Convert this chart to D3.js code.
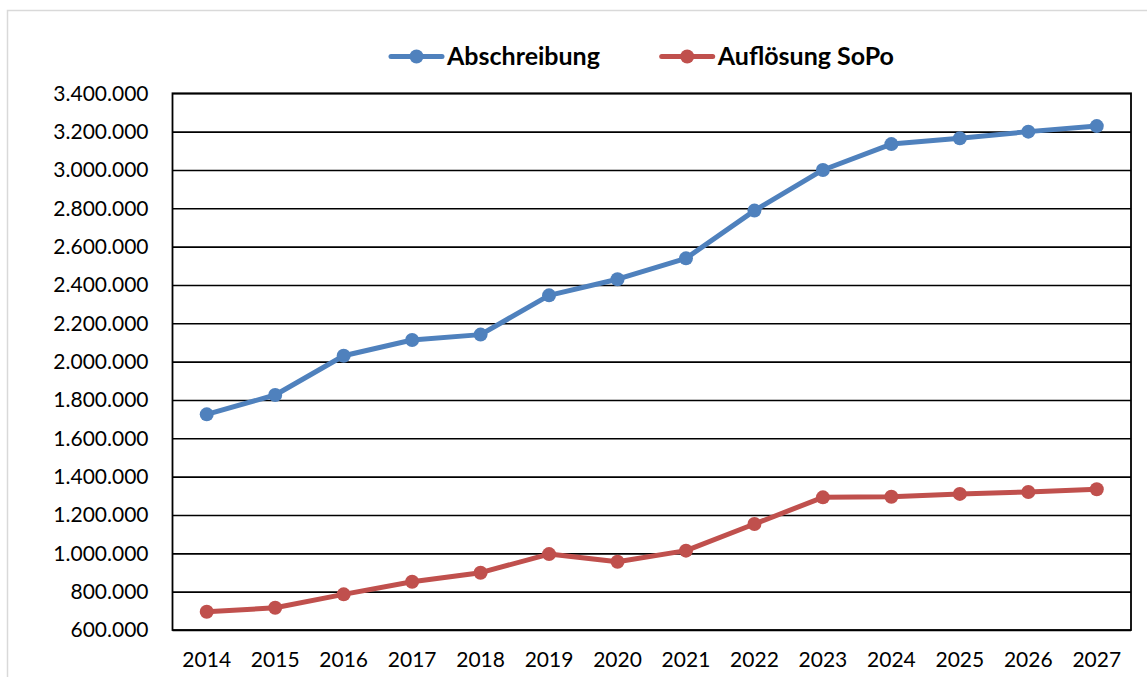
<!DOCTYPE html>
<html lang="de">
<head>
<meta charset="UTF-8">
<title>Abschreibung / Auflösung SoPo</title>
<script src="https://d3js.org/d3.v7.min.js"></script>
<style>
    body { margin: 0; background: #fff; }
    svg { display: block; font-family: Lato, "Open Sans", sans-serif; }
</style>
</head>
<body>
<div id="chart"></div>
<script>
    // data
    const years = ["2014", "2015", "2016", "2017", "2018", "2019", "2020",
                   "2021", "2022", "2023", "2024", "2025", "2026", "2027"];
    const abschreibung = [1725000, 1826000, 2031000, 2113000, 2141000, 2346000, 2430000,
                          2539000, 2788000, 3000000, 3135000, 3165000, 3200000, 3229000];
    const aufloesung = [695000, 716000, 786000, 852000, 899000, 996000, 956000,
                        1014000, 1153000, 1292000, 1295000, 1310000, 1320000, 1334000];
    const yTicks = [600000, 800000, 1000000, 1200000, 1400000, 1600000, 1800000, 2000000,
                    2200000, 2400000, 2600000, 2800000, 3000000, 3200000, 3400000];
    const seriesNames = ["Abschreibung", "Auflösung SoPo"];
    const colors = ["#4f81bd", "#c0504d"];

    const W = 1147, H = 677;
    const plot = { left: 172.5, right: 1131, top: 93.3, bottom: 630 };

    const svg = d3.select("#chart").append("svg")
        .attr("width", W)
        .attr("height", H);

    // outer chart frame
    svg.append("rect")
        .attr("x", 7.5).attr("y", 10.5)
        .attr("width", W + 10).attr("height", H + 10)
        .attr("fill", "#fff")
        .attr("stroke", "#d9d9d9")
        .attr("stroke-width", 1.5);

    const x = d3.scaleBand()
        .domain(years)
        .range([plot.left, plot.right]);

    const y = d3.scaleLinear()
        .domain([600000, 3400000])
        .range([plot.bottom, plot.top]);

    const fmt = v => d3.format(",")(v).replace(/,/g, ".");

    // gridlines + left axis labels
    const yAxis = svg.append("g")
        .attr("transform", `translate(${plot.left},0)`)
        .call(d3.axisLeft(y).tickValues(yTicks).tickFormat(fmt)
            .tickSize(-(plot.right - plot.left)).tickPadding(24));
    yAxis.select(".domain").remove();
    yAxis.selectAll(".tick line")
        .attr("stroke", "#000")
        .attr("stroke-width", 1.6);
    yAxis.selectAll(".tick text")
        .attr("fill", "#000")
        .style("font-size", "21px")
        .style("font-family", "Lato, sans-serif");

    // plot frame
    svg.append("rect")
        .attr("x", plot.left).attr("y", plot.top)
        .attr("width", plot.right - plot.left)
        .attr("height", plot.bottom - plot.top)
        .attr("fill", "none")
        .attr("stroke", "#000")
        .attr("stroke-width", 1.8);

    // bottom axis labels
    const xAxis = svg.append("g")
        .attr("transform", `translate(0,${plot.bottom})`)
        .call(d3.axisBottom(x).tickSize(0).tickPadding(22));
    xAxis.select(".domain").remove();
    xAxis.selectAll(".tick text")
        .attr("fill", "#000")
        .style("font-size", "21px")
        .style("font-family", "Lato, sans-serif");

    const cx = d => x(d) + x.bandwidth() / 2;
    const line = d3.line()
        .x((d, i) => cx(years[i]))
        .y(d => y(d));

    [abschreibung, aufloesung].forEach((vals, s) => {
        svg.append("path")
            .datum(vals)
            .attr("d", line)
            .attr("fill", "none")
            .attr("stroke", colors[s])
            .attr("stroke-width", 5)
            .attr("stroke-linejoin", "round");

        svg.selectAll(".pt" + s)
            .data(vals)
            .enter()
            .append("circle")
            .attr("cx", (d, i) => cx(years[i]))
            .attr("cy", d => y(d))
            .attr("r", 7)
            .attr("fill", colors[s]);
    });

    // legend
    const legendX = [391, 661.7];
    const legend = svg.append("g");
    seriesNames.forEach((name, i) => {
        const g = legend.append("g").attr("transform", `translate(${legendX[i]},56.5)`);
        g.append("line")
            .attr("x1", 0).attr("x2", 51)
            .attr("stroke", colors[i])
            .attr("stroke-width", 5)
            .attr("stroke-linecap", "round");
        g.append("circle")
            .attr("cx", 25.5).attr("r", 7)
            .attr("fill", colors[i]);
        g.append("text")
            .attr("x", 56)
            .attr("y", 8)
            .attr("fill", "#000")
            .style("font-size", "25px")
            .style("font-weight", "bold")
            .text(name);
    });
</script>
</body>
</html>
